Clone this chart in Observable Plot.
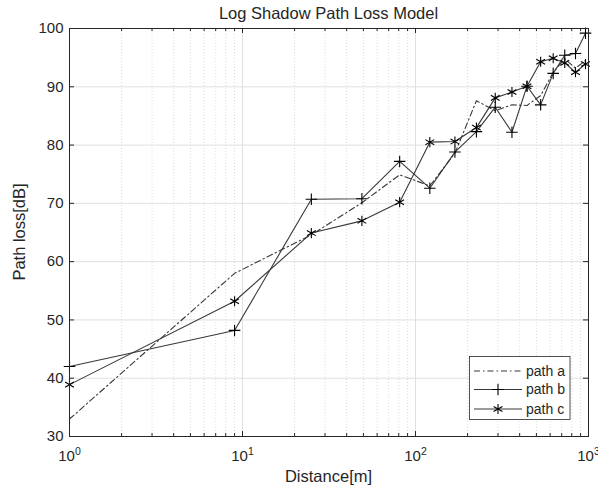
<!DOCTYPE html>
<html><head><meta charset="utf-8">
<script src="https://cdn.jsdelivr.net/npm/d3@7"></script>
<script src="https://cdn.jsdelivr.net/npm/@observablehq/plot@0.6"></script>
<style>body{margin:0;background:#fff}</style>
</head><body><div id="chart"></div>
<script>
const distance = [1, 9, 25, 49, 81, 121, 169, 225, 289, 361, 441, 529, 625, 729, 841, 961];
const pathA = [33.0, 58.0, 64.6, 70.1, 74.9, 73.0, 78.6, 87.6, 85.9, 86.9, 86.8, 88.5, 92.5, 94.8, 93.2, 94.5];
const pathB = [42.0, 48.2, 70.7, 70.8, 77.2, 72.6, 78.8, 82.3, 86.5, 82.2, 90.1, 86.9, 92.3, 95.4, 95.7, 99.2];
const pathC = [38.9, 53.2, 64.9, 67.0, 70.2, 80.5, 80.6, 83.0, 88.1, 89.1, 90.1, 94.3, 94.9, 94.1, 92.5, 93.9];
const seriesNames = ["path a", "path b", "path c"];
const yTicks = [30, 40, 50, 60, 70, 80, 90, 100];
const xMajor = [1, 10, 100, 1000];
const xExp = ["0", "1", "2", "3"];
const xMinor = [2,3,4,5,6,7,8,9,20,30,40,50,60,70,80,90,200,300,400,500,600,700,800,900];
const title = "Log Shadow Path Loss Model";
const xLabel = "Distance[m]";
const yLabel = "Path loss[dB]";

const W = 598, H = 493, mL = 69, mR = 10, mT = 28, mB = 57;
const fw = W - mL - mR, fh = H - mT - mB;
const ink = "#262626", lineCol = "#383838";

const toRows = (vals, name) => distance.map((d, i) => ({d, v: vals[i], name}));
const rowsA = toRows(pathA, seriesNames[0]);
const rowsB = toRows(pathB, seriesNames[1]);
const rowsC = toRows(pathC, seriesNames[2]);

const plot = Plot.plot({
  width: W, height: H,
  marginLeft: mL, marginRight: mR, marginTop: mT, marginBottom: mB,
  style: {fontFamily: "'Liberation Sans', Arial, sans-serif", fontSize: "15px", color: ink, background: "#fff"},
  x: {type: "log", domain: [1, 1000], label: null},
  y: {domain: [30, 100], label: null},
  marks: [
    Plot.ruleX(xMinor, {stroke: "#d4d4d4", strokeDasharray: "1,2", strokeWidth: 0.8}),
    Plot.ruleX(xMajor, {stroke: "#e0e0e0", strokeWidth: 1}),
    Plot.ruleY(yTicks, {stroke: "#e0e0e0", strokeWidth: 1}),
    // inward ticks
    Plot.tickX(xMajor, {x: d => d, insetTop: fh - 5, stroke: ink}),
    Plot.tickX(xMajor, {x: d => d, insetBottom: fh - 5, stroke: ink}),
    Plot.tickX(xMinor, {x: d => d, insetTop: fh - 3, stroke: ink}),
    Plot.tickX(xMinor, {x: d => d, insetBottom: fh - 3, stroke: ink}),
    Plot.tickY(yTicks, {y: d => d, insetRight: fw - 5, stroke: ink}),
    Plot.tickY(yTicks, {y: d => d, insetLeft: fw - 5, stroke: ink}),
    Plot.line(rowsA, {x: "d", y: "v", stroke: lineCol, strokeWidth: 1.1, strokeDasharray: "6,3,1.5,3"}),
    Plot.line(rowsB, {x: "d", y: "v", stroke: lineCol, strokeWidth: 1.1}),
    Plot.line(rowsC, {x: "d", y: "v", stroke: lineCol, strokeWidth: 1.1}),
    Plot.dot(rowsB, {x: "d", y: "v", symbol: "plus", r: 3.8, stroke: "#000", strokeWidth: 1.1}),
    Plot.dot(rowsC, {x: "d", y: "v", symbol: "asterisk", r: 4.8, stroke: "#000", strokeWidth: 1.1}),
    Plot.frame({stroke: ink, strokeWidth: 1}),
    Plot.axisX(xMajor, {tickSize: 0, tickPadding: 14, tickFormat: d => "10" + xExp[xMajor.indexOf(d)], fontSize: 15}),
    Plot.axisY(yTicks, {tickSize: 0, tickPadding: 6, fontSize: 15})
  ]
});
document.getElementById("chart").appendChild(plot);

const svg = d3.select(plot);
// superscripts on x tick labels
svg.selectAll('g[aria-label="x-axis tick label"] text').each(function() {
  const t = d3.select(this);
  const s = t.text();
  const exp = s.slice(2);
  t.text(null);
  t.append("tspan").text("10");
  t.append("tspan").attr("dy", "-0.55em").attr("font-size", "10.5px").text(exp);
});

const font = "'Liberation Sans', Arial, sans-serif";
svg.append("text").attr("x", mL + fw / 2).attr("y", 19).attr("text-anchor", "middle")
  .attr("font-family", font).attr("font-size", "16.5px").attr("fill", ink).text(title);
svg.append("text").attr("x", mL + fw / 2).attr("y", 482).attr("text-anchor", "middle")
  .attr("font-family", font).attr("font-size", "16.5px").attr("fill", ink).text(xLabel);
svg.append("text").attr("transform", `translate(25,${mT + fh / 2}) rotate(-90)`).attr("text-anchor", "middle")
  .attr("font-family", font).attr("font-size", "16.5px").attr("fill", ink).text(yLabel);

// legend
const lg = svg.append("g");
lg.append("rect").attr("x", 469.5).attr("y", 356.5).attr("width", 100.5).attr("height", 63)
  .attr("fill", "#fff").attr("stroke", ink).attr("stroke-width", 0.8);
const rowsY = [371, 389.5, 409];
const dashes = ["6,3,1.5,3", null, null];
const syms = [null, d3.symbolPlus, d3.symbolAsterisk];
const symSize = [0, Math.PI * 3.8 * 3.8, Math.PI * 4.8 * 4.8];
seriesNames.forEach((name, i) => {
  const y = rowsY[i];
  const l = lg.append("line").attr("x1", 474).attr("x2", 522).attr("y1", y).attr("y2", y)
    .attr("stroke", lineCol).attr("stroke-width", 1.1);
  if (dashes[i]) l.attr("stroke-dasharray", dashes[i]);
  if (syms[i]) lg.append("path").attr("d", d3.symbol(syms[i], symSize[i])())
    .attr("transform", `translate(498,${y})`).attr("fill", "none").attr("stroke", "#000").attr("stroke-width", 1.1);
  lg.append("text").attr("x", 526).attr("y", y).attr("dy", "0.35em").attr("text-anchor", "start")
    .attr("font-family", font).attr("font-size", "14px").attr("fill", ink).text(name);
});
</script>
</body></html>
